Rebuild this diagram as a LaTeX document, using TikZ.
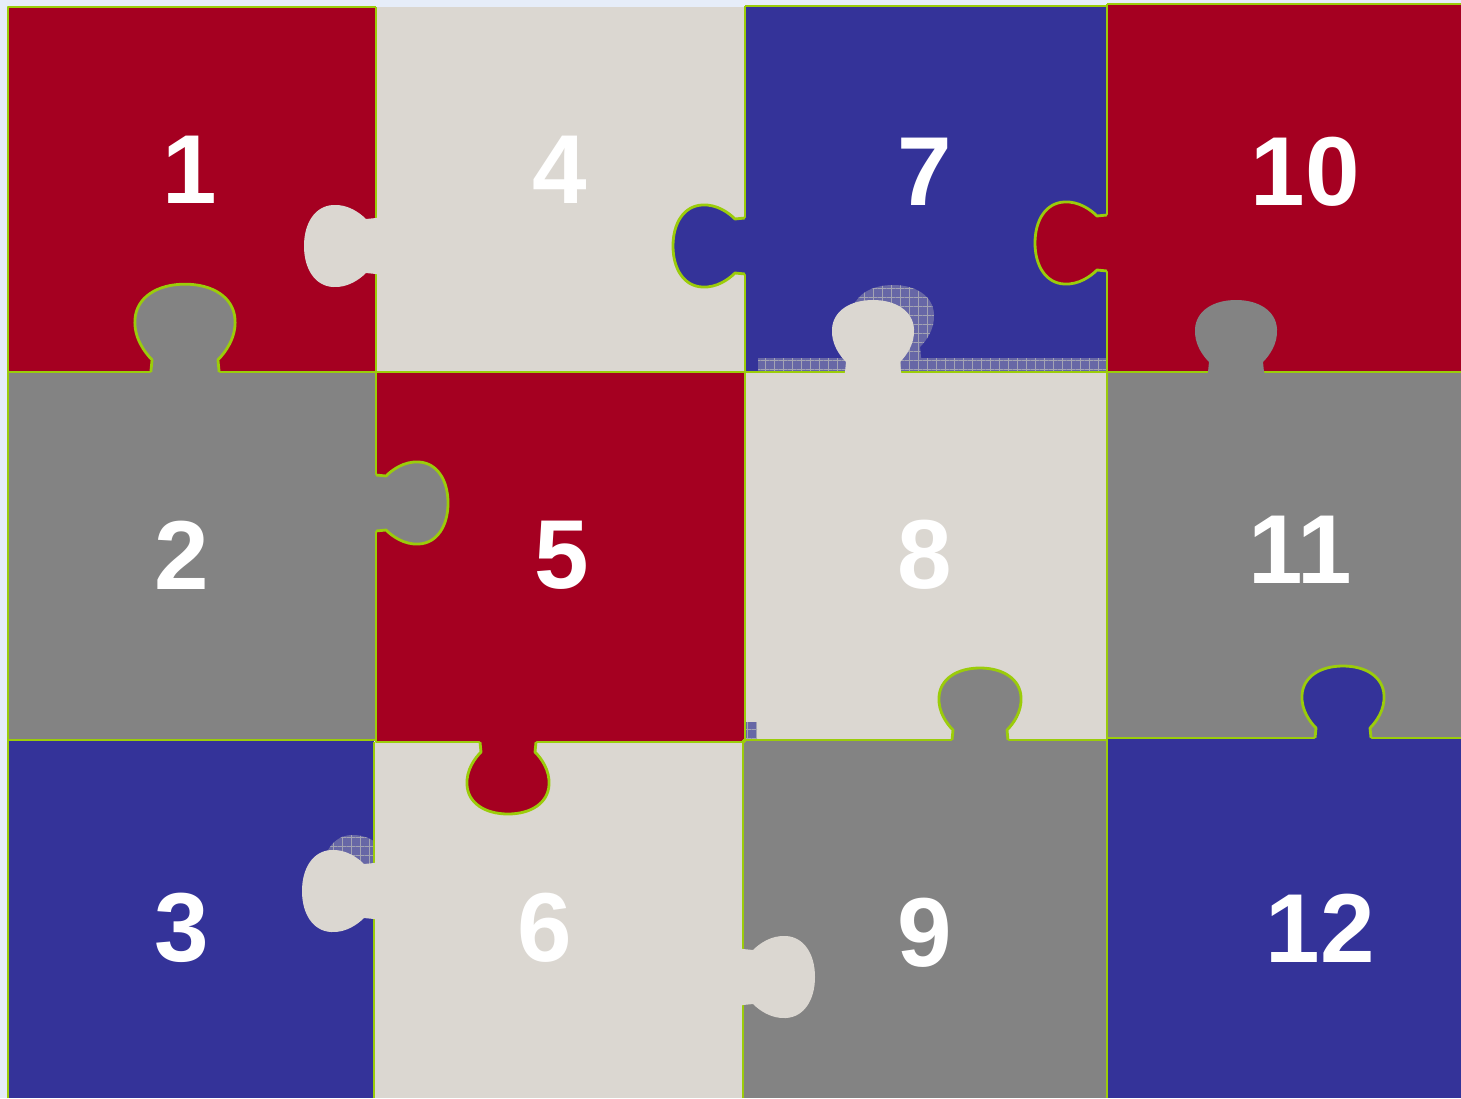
\documentclass[tikz,border=0pt]{standalone}
\usepackage{fontspec}
\setmainfont{Liberation Sans}
\usetikzlibrary{patterns.meta}
\definecolor{redp}{HTML}{A50021}
\definecolor{bluep}{HTML}{343399}
\definecolor{grayp}{HTML}{838383}
\definecolor{lightp}{HTML}{DBD7D1}
\definecolor{edgegreen}{HTML}{9BCC0A}
\definecolor{bgblue}{HTML}{E6EDF9}
\definecolor{ghostblue}{HTML}{6767A6}
\definecolor{gridgray}{HTML}{A3A3B3}
\tikzset{
  edge/.style={draw=edgegreen,line width=2.8pt,line join=round},
  num/.style={text=white,inner sep=0pt,font=\fontsize{98}{98}\selectfont\bfseries},
  ghost/.style={fill=ghostblue,
    postaction={pattern={Lines[distance=9pt,angle=0,line width=0.6pt]},pattern color=gridgray},
    postaction={pattern={Lines[distance=9pt,angle=90,line width=0.6pt]},pattern color=gridgray}},
  tabup/.style={x={(1pt,0pt)},y={(0pt,1pt)}},
  tabdown/.style={x={(1pt,0pt)},y={(0pt,-1pt)}},
  tableft/.style={x={(0pt,1pt)},y={(-1pt,0pt)}},
  tabright/.style={x={(0pt,1pt)},y={(1pt,0pt)}}
}
% knob outline, base centred at (0,0), pointing along +y
\newcommand{\taboutline}{(-28,0) -- (-27,10) .. controls (-33,16) and (-42,28) .. (-41,43) .. controls (-40,61) and (-23,72) .. (0,72) .. controls (23,72) and (40,61) .. (41,43) .. controls (42,28) and (33,16) .. (27,10) -- (28,0)}
\newcommand{\tabfill}{(-29,-4) -- \taboutline -- (29,-4) -- cycle}

\begin{document}
\begin{tikzpicture}[x=1pt,y=-1pt]
\useasboundingbox (0,0) rectangle (1461,1098);
\fill[bgblue] (0,0) rectangle (1461,1098);

% pieces
\fill[redp]   (8,7)     rectangle (376,372);
\fill[lightp] (376,7)   rectangle (745,372);
\fill[bluep]  (745,6)   rectangle (1107,372);
\fill[redp]   (1107,4)  rectangle (1461,372);
\fill[grayp]  (8,372)   rectangle (376,740);
\fill[redp]   (376,372) rectangle (745,742);
\fill[lightp] (745,372) rectangle (1107,740);
\fill[grayp]  (1107,372) rectangle (1461,738);
\fill[bluep]  (8,740)   rectangle (374,1098);
\fill[lightp] (374,742) rectangle (743,1098);
\fill[grayp]  (743,740) rectangle (1107,1098);
\fill[bluep]  (1107,738) rectangle (1461,1098);

% shadows
\path[ghost] (758,358) rectangle (1107,372);
\begin{scope}[shift={(893,357)},tabup]
  \path[ghost] \tabfill;
\end{scope}
\path[ghost] (745,722) rectangle (757,740);
\begin{scope}
  \clip (8,740) rectangle (374,1098);
  \begin{scope}[shift={(394,876)},tableft]
    \path[ghost] \tabfill;
  \end{scope}
\end{scope}

% borders
\draw[edge] (8,1098) -- (8,7) -- (376,7);
\draw[edge] (745,6) -- (1107,6);
\draw[edge] (1107,4) -- (1461,4);
\draw[edge] (376,7) -- (376,742);
\draw[edge] (745,6) -- (745,742);
\draw[edge] (1107,4) -- (1107,1098);
\draw[edge] (374,742) -- (374,1098);
\draw[edge] (743,740) -- (743,1098);
\draw[edge] (8,372) -- (1461,372);
\draw[edge] (8,740) -- (376,740) -- (376,742) -- (745,742);
\draw[edge] (743,740) -- (1107,740);
\draw[edge] (1107,738) -- (1461,738);

% knobs with outline
\begin{scope}[shift={(185,372)},tabup,scale=1.22]
  \fill[grayp] \tabfill; \draw[edge] \taboutline;
\end{scope}
\begin{scope}[shift={(745,246)},tableft]
  \fill[bluep] \tabfill; \draw[edge] \taboutline;
\end{scope}
\begin{scope}[shift={(1107,243)},tableft]
  \fill[redp] \tabfill; \draw[edge] \taboutline;
\end{scope}
\begin{scope}[shift={(376,503)},tabright]
  \fill[grayp] \tabfill; \draw[edge] \taboutline;
\end{scope}
\begin{scope}[shift={(508,742)},tabdown]
  \fill[redp] \tabfill; \draw[edge] \taboutline;
\end{scope}
\begin{scope}[shift={(980,740)},tabup]
  \fill[grayp] \tabfill; \draw[edge] \taboutline;
\end{scope}
\begin{scope}[shift={(1343,738)},tabup]
  \fill[bluep] \tabfill; \draw[edge] \taboutline;
\end{scope}

% knobs without outline
\begin{scope}[shift={(376,246)},tableft]
  \fill[lightp] \tabfill;
\end{scope}
\begin{scope}[shift={(873,372)},tabup]
  \fill[lightp] \tabfill;
\end{scope}
\begin{scope}[shift={(1236,372)},tabup]
  \fill[grayp] \tabfill;
\end{scope}
\begin{scope}[shift={(374,891)},tableft]
  \fill[lightp] \tabfill;
\end{scope}
\begin{scope}[shift={(743,977)},tabright]
  \fill[lightp] \tabfill;
\end{scope}

% numbers
\node[num] (n1)  at (190,170)  {1};
\node[num] (n4)  at (560,170)  {4};
\node[num] (n7)  at (925,172)  {7};
\node[num] (n10) at (1305,172) {10};
\node[num] (n2)  at (182,555)  {2};
\node[num] (n5)  at (562,555)  {5};
\node[num] (n8)  at (925,555)  {8};
\node[num] (n11) at (1300,550) {11};
\node[num] (n3)  at (182,928)  {3};
\node[num] (n6)  at (545,928)  {6};
\node[num] (n9)  at (925,933)  {9};
\node[num] (n12) at (1320,928) {12};
\end{tikzpicture}
\end{document}
